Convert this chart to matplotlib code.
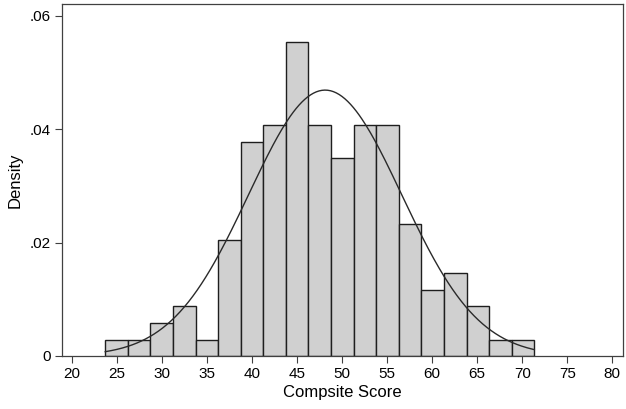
import numpy as np
import matplotlib.pyplot as plt

plt.rcParams['font.family'] = ['Liberation Sans', 'DejaVu Sans']

# histogram bins
bin_start = 23.67
bin_width = 2.509
density = [0.0029, 0.0029, 0.0058, 0.0088, 0.0029, 0.0204, 0.0378, 0.0408,
           0.0553, 0.0408, 0.0349, 0.0408, 0.0408, 0.0233, 0.0117, 0.0146,
           0.0088, 0.0029, 0.0029]

# normal curve overlay
curve_mean = 48.1
curve_sd = 8.51

xticks = [20, 25, 30, 35, 40, 45, 50, 55, 60, 65, 70, 75, 80]
yticks = [0, 0.02, 0.04, 0.06]
ylabels = ['0', '.02', '.04', '.06']

fig = plt.figure(figsize=(6.26, 4.09), dpi=100)
ax = fig.add_axes([0.099, 0.1296, 0.8957, 0.8594])

edges = bin_start + bin_width * np.arange(len(density) + 1)
ax.bar(edges[:-1], density, width=bin_width, align='edge',
       color='#d0d0d0', edgecolor='#1e1e1e', linewidth=1.0, zorder=2)

xs = np.linspace(edges[0], edges[-1], 300)
ys = np.exp(-0.5 * ((xs - curve_mean) / curve_sd) ** 2) / (curve_sd * np.sqrt(2 * np.pi))
ax.plot(xs, ys, color='#2a2a2a', linewidth=1.0, zorder=3)

ax.set_xlim(18.86, 81.16)
ax.set_ylim(0, 0.06197)
ax.set_xticks(xticks)
ax.set_yticks(yticks)
ax.set_yticklabels(ylabels)
ax.tick_params(axis='both', labelsize=11, length=5, width=0.8,
               color='#404040', pad=3)
for s in ax.spines.values():
    s.set_color('#404040')
    s.set_linewidth(0.9)

ax.set_xlabel('Compsite Score', fontsize=12, labelpad=3)
ax.set_ylabel('Density', fontsize=12, labelpad=5)

plt.savefig('out.png', dpi=100)
